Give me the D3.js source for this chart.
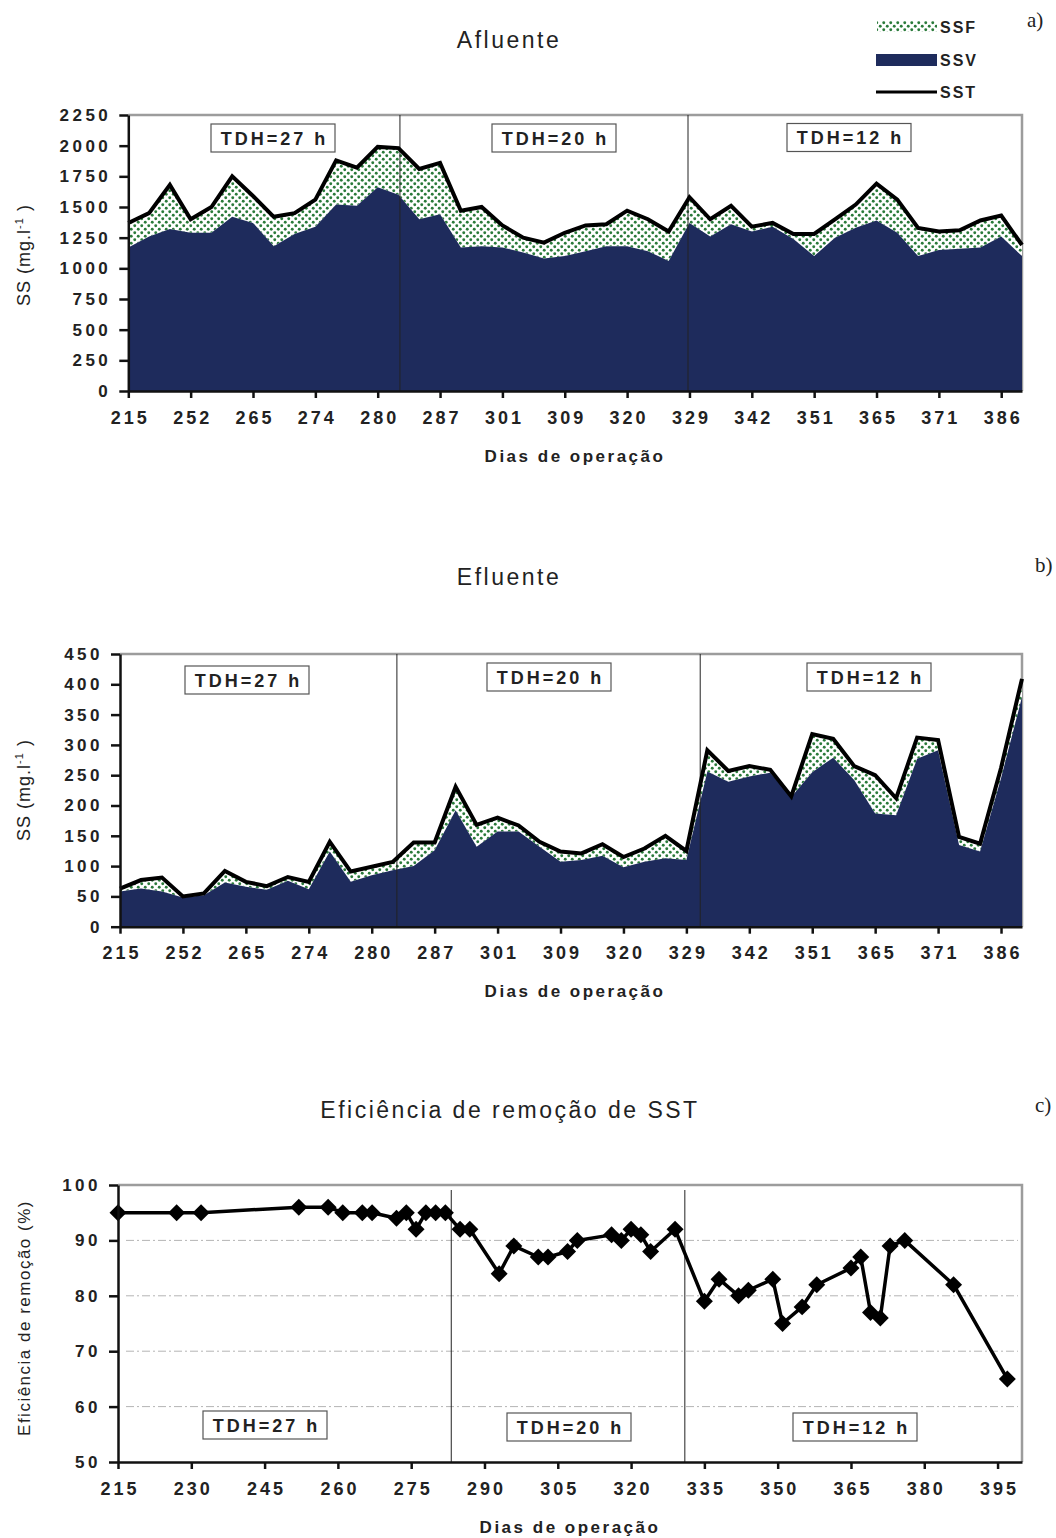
<!DOCTYPE html>
<html>
<head>
<meta charset="utf-8">
<title>Sólidos suspensos - afluente, efluente e eficiência</title>
<script src="https://d3js.org/d3.v7.min.js"></script>
<style>
  body { margin: 0; background: #fff; }
  svg text { font-family: "Liberation Sans", Arial, sans-serif; fill: #222; }
</style>
</head>
<body>
<svg width="1056" height="1538"></svg>
<script>
// rótulos do eixo x (um a cada 3 coletas) nos gráficos a) e b)
const diasRotulo = [215, 252, 265, 274, 280, 287, 301, 309, 320, 329, 342, 351, 365, 371, 386];

// a) afluente (mg/l)
const sstAfl = [1370, 1450, 1680, 1400, 1500, 1750, 1590, 1420, 1450, 1560, 1880, 1820, 1990, 1980, 1810,
  1860, 1470, 1500, 1350, 1250, 1210, 1290, 1350, 1360, 1470, 1400, 1300, 1580, 1400, 1510,
  1340, 1370, 1280, 1280, 1400, 1520, 1690, 1560, 1330, 1300, 1310, 1390, 1430, 1190];
const ssvAfl = [1170, 1260, 1320, 1290, 1290, 1420, 1370, 1180, 1280, 1340, 1520, 1510, 1660, 1600, 1400,
  1440, 1170, 1180, 1170, 1130, 1080, 1100, 1140, 1180, 1180, 1140, 1060, 1370, 1260, 1360,
  1300, 1340, 1240, 1100, 1250, 1330, 1390, 1290, 1100, 1150, 1160, 1170, 1260, 1100];

// b) efluente (mg/l)
const sstEfl = [63, 77, 81, 50, 55, 92, 74, 67, 82, 74, 140, 91, 99, 107, 139,
  139, 231, 168, 180, 167, 140, 124, 121, 136, 115, 129, 150, 125, 291, 257,
  265, 259, 215, 318, 310, 265, 250, 212, 312, 308, 148, 137, 262, 409];
const ssvEfl = [58, 63, 58, 48, 52, 73, 66, 61, 76, 62, 124, 74, 85, 93, 100,
  126, 192, 132, 157, 157, 132, 107, 110, 117, 98, 107, 113, 110, 256, 239,
  248, 254, 214, 255, 279, 242, 187, 184, 277, 291, 135, 124, 245, 379];

// c) eficiência de remoção de SST (%)
const diasEfic = [215, 227, 232, 252, 258, 261, 265, 267, 272, 274, 276, 278, 280, 282, 285,
  287, 293, 296, 301, 303, 307, 309, 316, 318, 320, 322, 324, 329, 335, 338,
  342, 344, 349, 351, 355, 358, 365, 367, 369, 371, 373, 376, 386, 397];
const eficiencia = [95, 95, 95, 96, 96, 95, 95, 95, 94, 95, 92, 95, 95, 95, 92,
  92, 84, 89, 87, 87, 88, 90, 91, 90, 92, 91, 88, 92, 79, 83,
  80, 81, 83, 75, 78, 82, 85, 87, 77, 76, 89, 90, 82, 65];

const fases = ['TDH=27 h', 'TDH=20 h', 'TDH=12 h'];

const azul = '#1e2b5c';
const verde = '#2a7a3a';

const svg = d3.select('svg');
const defs = svg.append('defs');
const pat = defs.append('pattern').attr('id', 'pontos')
  .attr('patternUnits', 'userSpaceOnUse').attr('width', 7).attr('height', 7);
pat.append('rect').attr('width', 7).attr('height', 7).attr('fill', '#fff');
pat.append('circle').attr('cx', 1.75).attr('cy', 1.75).attr('r', 1.45).attr('fill', verde);
pat.append('circle').attr('cx', 5.25).attr('cy', 5.25).attr('r', 1.45).attr('fill', verde);

function moldura(box) {
  svg.append('path')
    .attr('d', `M${box.left},${box.top}H${box.right}V${box.bottom}`)
    .attr('fill', 'none').attr('stroke', '#9c9c9c').attr('stroke-width', 2.5);
}

function eixos(x, y, box, xTicks, xFmt, yTicks) {
  const gx = svg.append('g').attr('transform', `translate(0,${box.bottom})`)
    .call(d3.axisBottom(x).tickValues(xTicks).tickFormat(xFmt)
      .tickSize(7).tickPadding(13).tickSizeOuter(0));
  const gy = svg.append('g').attr('transform', `translate(${box.left},0)`)
    .call(d3.axisLeft(y).tickValues(yTicks).tickFormat(d3.format('d'))
      .tickSize(9).tickPadding(8).tickSizeOuter(0));
  [gx, gy].forEach(g => {
    g.attr('font-family', null).attr('font-weight', 'bold');
    g.select('.domain').attr('stroke', '#111').attr('stroke-width', 2.5);
    g.selectAll('.tick line').attr('stroke', '#111').attr('stroke-width', 2.5);
    g.selectAll('.tick text').attr('fill', '#222');
  });
  gx.attr('font-size', 18).selectAll('.tick text').attr('letter-spacing', '3px').attr('dx', '1.5px');
  gy.attr('font-size', 17).selectAll('.tick text').attr('letter-spacing', '3.5px');
}

function caixa(cx, cy, txt) {
  svg.append('rect').attr('x', cx - 62).attr('y', cy - 14).attr('width', 124).attr('height', 28)
    .attr('fill', '#fff').attr('stroke', '#555').attr('stroke-width', 1.2);
  svg.append('text').attr('x', cx + 1.5).attr('y', cy + 6.5).attr('text-anchor', 'middle')
    .attr('font-size', 18).attr('font-weight', 'bold').attr('letter-spacing', '3px').text(txt);
}

function titulo(cx, cy, txt) {
  svg.append('text').attr('x', cx).attr('y', cy).attr('text-anchor', 'middle')
    .attr('font-size', 23).attr('letter-spacing', '2.5px').text(txt);
}

function tituloX(cx, cy, txt) {
  svg.append('text').attr('x', cx).attr('y', cy).attr('text-anchor', 'middle')
    .attr('font-size', 17).attr('font-weight', 'bold').attr('letter-spacing', '2.5px').text(txt);
}

function tituloYss(cx, cy) {
  const t = svg.append('text').attr('transform', `translate(${cx},${cy}) rotate(-90)`)
    .attr('text-anchor', 'middle').attr('font-size', 18).attr('letter-spacing', '1px');
  t.append('tspan').text('SS (mg.l');
  t.append('tspan').attr('font-size', 11).attr('dy', -7).text('-1');
  t.append('tspan').attr('dy', 7).text(' )');
}

function letra(x, y, txt) {
  svg.append('text').attr('x', x).attr('y', y).attr('font-size', 21)
    .style('font-family', '"Liberation Serif", "Times New Roman", serif').text(txt);
}

function painelArea(cfg) {
  const n = cfg.sst.length;
  const idx = d3.range(n);
  const x = d3.scaleLinear().domain([0, n - 1]).range([cfg.left, cfg.right]);
  const y = d3.scaleLinear().domain([0, cfg.ymax]).range([cfg.bottom, cfg.top]);

  moldura(cfg);

  // SSF = SST - SSV, empilhado sobre SSV
  svg.append('path').datum(idx).attr('fill', 'url(#pontos)')
    .attr('d', d3.area().x(i => x(i)).y0(i => y(cfg.ssv[i])).y1(i => y(cfg.sst[i])));
  svg.append('path').datum(idx).attr('fill', azul)
    .attr('d', d3.area().x(i => x(i)).y0(y(0)).y1(i => y(cfg.ssv[i])));

  cfg.divisas.forEach(d => {
    svg.append('line').attr('x1', x(d)).attr('x2', x(d)).attr('y1', cfg.top).attr('y2', cfg.bottom)
      .attr('stroke', '#222').attr('stroke-width', 1);
  });

  svg.append('path').datum(idx).attr('fill', 'none').attr('stroke', '#000')
    .attr('stroke-width', 4).attr('stroke-linejoin', 'miter')
    .attr('d', d3.line().x(i => x(i)).y(i => y(cfg.sst[i])));

  eixos(x, y, cfg, d3.range(0, n - 1, 3), i => diasRotulo[i / 3], d3.range(0, cfg.ymax + 1, cfg.passo));

  cfg.caixas.forEach((c, k) => caixa(c[0], c[1], fases[k]));
}

// ---------- a) Afluente ----------
titulo(509, 48, 'Afluente');
letra(1027, 27, 'a)');
painelArea({
  sst: sstAfl, ssv: ssvAfl, ymax: 2250, passo: 250,
  left: 128.3, right: 1022, top: 115, bottom: 391,
  divisas: [13.07, 26.93],
  caixas: [[273, 138], [554, 138], [849, 137.5]]
});
tituloYss(30, 255);
tituloX(575, 462, 'Dias de operação');

// legenda
svg.append('rect').attr('x', 877).attr('y', 21).attr('width', 60).attr('height', 11).attr('fill', 'url(#pontos)');
svg.append('rect').attr('x', 876).attr('y', 54).attr('width', 61).attr('height', 12).attr('fill', azul);
svg.append('line').attr('x1', 876).attr('x2', 937).attr('y1', 92).attr('y2', 92)
  .attr('stroke', '#000').attr('stroke-width', 3);
[['SSF', 33], ['SSV', 66], ['SST', 98]].forEach(d => {
  svg.append('text').attr('x', 940).attr('y', d[1]).attr('font-size', 16)
    .attr('font-weight', 'bold').attr('letter-spacing', '2px').text(d[0]);
});

// ---------- b) Efluente ----------
titulo(509, 585, 'Efluente');
letra(1035, 572, 'b)');
painelArea({
  sst: sstEfl, ssv: ssvEfl, ymax: 450, passo: 50,
  left: 120, right: 1022, top: 654, bottom: 926.7,
  divisas: [13.2, 27.66],
  caixas: [[247, 680], [549, 677], [869, 677]]
});
tituloYss(30, 790);
tituloX(575, 997, 'Dias de operação');

// ---------- c) Eficiência ----------
titulo(510, 1118, 'Eficiência de remoção de SST');
letra(1035, 1112, 'c)');
(function () {
  const box = { left: 118, right: 1022, top: 1185, bottom: 1462 };
  const x = d3.scaleLinear().domain([215, 400]).range([box.left, box.right]);
  const y = d3.scaleLinear().domain([50, 100]).range([box.bottom, box.top]);

  moldura(box);
  [60, 70, 80, 90].forEach(v => {
    svg.append('line').attr('x1', box.left + 8).attr('x2', box.right - 4)
      .attr('y1', y(v)).attr('y2', y(v))
      .attr('stroke', '#b4b4b4').attr('stroke-width', 1).attr('stroke-dasharray', '8,3,2,3');
  });
  [283.2, 331].forEach(d => {
    svg.append('line').attr('x1', x(d)).attr('x2', x(d)).attr('y1', box.top + 5).attr('y2', box.bottom)
      .attr('stroke', '#222').attr('stroke-width', 1);
  });
  [[265, 1425], [569, 1427], [855, 1427]].forEach((c, k) => caixa(c[0], c[1], fases[k]));

  svg.append('path').datum(diasEfic).attr('fill', 'none').attr('stroke', '#000')
    .attr('stroke-width', 3.5).attr('stroke-linejoin', 'round')
    .attr('d', d3.line().x(d => x(d)).y((d, i) => y(eficiencia[i])));
  svg.selectAll('.losango').data(diasEfic).enter().append('rect')
    .attr('class', 'losango')
    .attr('x', -6).attr('y', -6).attr('width', 12).attr('height', 12)
    .attr('fill', '#000')
    .attr('transform', (d, i) => `translate(${x(d)},${y(eficiencia[i])}) rotate(45)`);

  eixos(x, y, box, d3.range(215, 396, 15), d3.format('d'), d3.range(50, 101, 10));

  svg.append('text').attr('transform', `translate(30,${1318}) rotate(-90)`)
    .attr('text-anchor', 'middle').attr('font-size', 17).attr('letter-spacing', '1.5px')
    .text('Eficiência de remoção (%)');
  tituloX(570, 1533, 'Dias de operação');
})();
</script>
</body>
</html>
